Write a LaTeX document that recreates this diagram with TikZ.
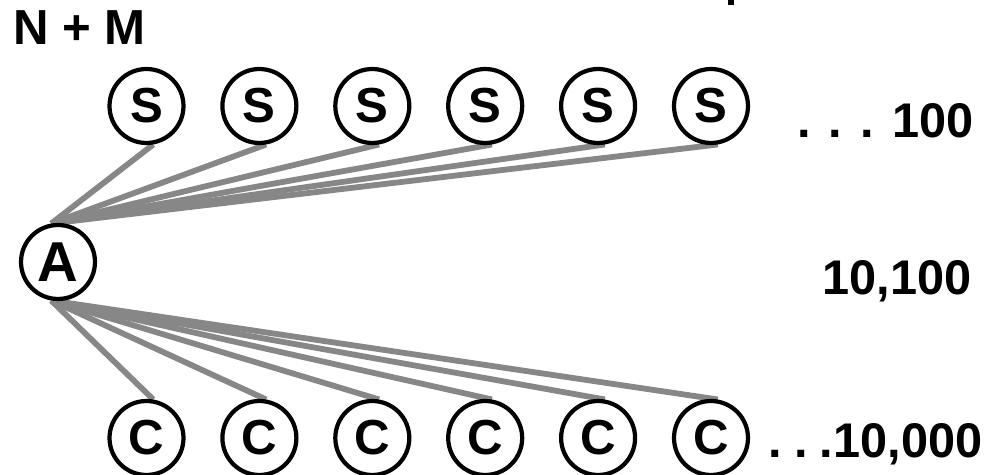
\documentclass[tikz,border=0pt]{standalone}
\usepackage{fontspec}
\setmainfont{Liberation Sans}
\usetikzlibrary{backgrounds}
\tikzset{
  agent/.style={circle,draw,fill=white,line width=2.4pt,minimum size=1.48cm,inner sep=0pt,font=\bfseries\fontsize{28}{28}\selectfont},
  link/.style={draw=black!47,line width=3.3pt},
  count/.style={anchor=base west,inner sep=0pt,font=\bfseries\fontsize{27.7}{28}\selectfont}
}
\begin{document}
\begin{tikzpicture}[x=0.02cm,y=-0.02cm]
\useasboundingbox (0,0) rectangle (992,475);
\node[agent,font=\bfseries\fontsize{32}{32}\selectfont](a)at(58,262){A};
%servers and clients
\foreach \i in {1,...,6}{
\node[agent](s\i)at(146.5+112.9*\i-112.9,106){S};
\node[agent](c\i)at(146.5+112.9*\i-112.9,438){C};
}
\begin{scope}[on background layer]
\foreach \i in {1,...,6}{
\draw[link](a.100)--(s\i.-80);
\draw[link](a.-100)--(c\i.80);
}
\end{scope}
%labels
\node[count,font=\bfseries\fontsize{28}{28}\selectfont](nm)at(13,45){N + M};
\node[count](ns)at(797,138){. . . 100};
\node[count](nt)at(822,295){10,100};
\node[count](nc)at(768,458){.\hspace{7pt}.\hspace{7pt}.10,000};
\fill(728,0)rectangle(734,5);
\end{tikzpicture}
\end{document}
